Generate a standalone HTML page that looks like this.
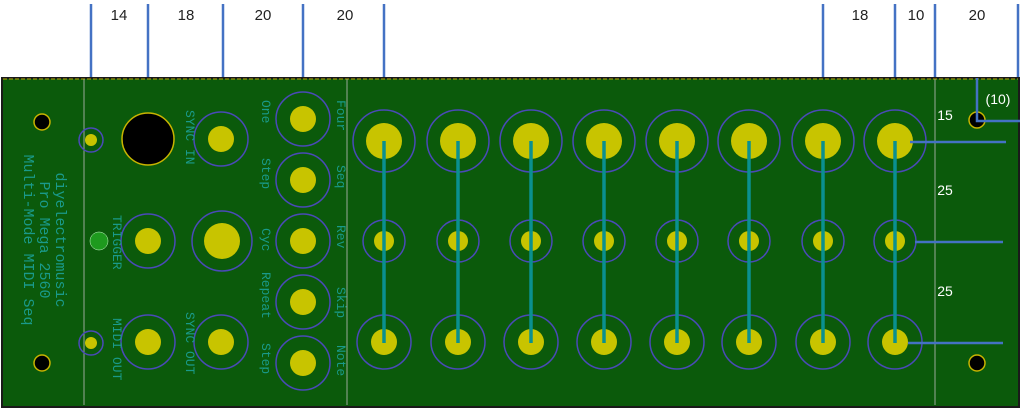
<!DOCTYPE html><html><head><style>body{margin:0;background:#fff}svg{display:block}</style></head><body>
<svg width="1022" height="408" xmlns="http://www.w3.org/2000/svg" font-family="Liberation Sans, sans-serif">
<rect x="0" y="0" width="1022" height="408" fill="#fff"/>
<rect x="2" y="78" width="1017" height="329" fill="#0b5a0b" stroke="#1a1a1a" stroke-width="2"/>
<line x1="3" y1="79" x2="1018" y2="79" stroke="#b8a800" stroke-width="1" stroke-dasharray="4,2"/>
<g stroke="#9aa89a" stroke-width="1"><line x1="84" y1="79" x2="84" y2="405"/><line x1="347" y1="79" x2="347" y2="405"/><line x1="935" y1="79" x2="935" y2="405"/></g>
<g fill="#000" stroke="#c8b400" stroke-width="1.5"><circle cx="42" cy="122" r="8"/><circle cx="42" cy="363" r="8"/><circle cx="977" cy="120" r="8"/><circle cx="977" cy="363" r="8"/><circle cx="148" cy="139" r="26"/></g>
<g fill="none" stroke="#4a4ab8" stroke-width="1.5">
<circle cx="91" cy="140" r="12"/><circle cx="91" cy="343" r="12"/>
<circle cx="221" cy="139" r="27"/><circle cx="148" cy="241" r="27"/><circle cx="222" cy="241" r="30"/><circle cx="148" cy="342" r="27"/><circle cx="221" cy="342" r="27"/>
<circle cx="303" cy="119" r="27"/><circle cx="303" cy="180" r="27"/><circle cx="303" cy="241" r="27"/><circle cx="303" cy="302" r="27"/><circle cx="303" cy="363" r="27"/>
</g>
<g fill="#c8c400">
<circle cx="91" cy="140" r="6"/><circle cx="91" cy="343" r="6"/>
<circle cx="221" cy="139" r="13"/><circle cx="148" cy="241" r="13"/><circle cx="222" cy="241" r="18"/><circle cx="148" cy="342" r="13"/><circle cx="221" cy="342" r="13"/>
<circle cx="303" cy="119" r="13"/><circle cx="303" cy="180" r="13"/><circle cx="303" cy="241" r="13"/><circle cx="303" cy="302" r="13"/><circle cx="303" cy="363" r="13"/>
</g>
<circle cx="99" cy="241" r="9" fill="#1e9a1e" stroke="#cfc" stroke-width="0.5"/>
<g id="cols">
<g fill="none" stroke="#4a4ab8" stroke-width="1.5">
<circle cx="384" cy="141" r="31"/><circle cx="384" cy="241" r="21"/><circle cx="384" cy="342" r="27"/>
<circle cx="458" cy="141" r="31"/><circle cx="458" cy="241" r="21"/><circle cx="458" cy="342" r="27"/>
<circle cx="531" cy="141" r="31"/><circle cx="531" cy="241" r="21"/><circle cx="531" cy="342" r="27"/>
<circle cx="604" cy="141" r="31"/><circle cx="604" cy="241" r="21"/><circle cx="604" cy="342" r="27"/>
<circle cx="677" cy="141" r="31"/><circle cx="677" cy="241" r="21"/><circle cx="677" cy="342" r="27"/>
<circle cx="749" cy="141" r="31"/><circle cx="749" cy="241" r="21"/><circle cx="749" cy="342" r="27"/>
<circle cx="823" cy="141" r="31"/><circle cx="823" cy="241" r="21"/><circle cx="823" cy="342" r="27"/>
<circle cx="895" cy="141" r="31"/><circle cx="895" cy="241" r="21"/><circle cx="895" cy="342" r="27"/>
</g>
<g fill="#c8c400">
<circle cx="384" cy="141" r="18"/><circle cx="384" cy="241" r="10"/><circle cx="384" cy="342" r="13"/>
<circle cx="458" cy="141" r="18"/><circle cx="458" cy="241" r="10"/><circle cx="458" cy="342" r="13"/>
<circle cx="531" cy="141" r="18"/><circle cx="531" cy="241" r="10"/><circle cx="531" cy="342" r="13"/>
<circle cx="604" cy="141" r="18"/><circle cx="604" cy="241" r="10"/><circle cx="604" cy="342" r="13"/>
<circle cx="677" cy="141" r="18"/><circle cx="677" cy="241" r="10"/><circle cx="677" cy="342" r="13"/>
<circle cx="749" cy="141" r="18"/><circle cx="749" cy="241" r="10"/><circle cx="749" cy="342" r="13"/>
<circle cx="823" cy="141" r="18"/><circle cx="823" cy="241" r="10"/><circle cx="823" cy="342" r="13"/>
<circle cx="895" cy="141" r="18"/><circle cx="895" cy="241" r="10"/><circle cx="895" cy="342" r="13"/>
</g>
<g stroke="#0a9090" stroke-width="3.5">
<line x1="384" y1="141" x2="384" y2="343"/><line x1="458" y1="141" x2="458" y2="343"/><line x1="531" y1="141" x2="531" y2="343"/><line x1="604" y1="141" x2="604" y2="343"/><line x1="677" y1="141" x2="677" y2="343"/><line x1="749" y1="141" x2="749" y2="343"/><line x1="823" y1="141" x2="823" y2="343"/><line x1="895" y1="141" x2="895" y2="343"/>
</g>
</g>
<g fill="#1a9a8a" font-family="Liberation Mono, monospace" font-size="15">
<text transform="translate(56,240) rotate(90)" text-anchor="middle">diyelectromusic</text>
<text transform="translate(40,240) rotate(90)" text-anchor="middle">Pro Mega 2560</text>
<text transform="translate(24,240) rotate(90)" text-anchor="middle">Multi-Mode MIDI Seq</text>
<text font-size="13" transform="translate(186,110) rotate(90)">SYNC IN</text>
<text font-size="13" transform="translate(113,215) rotate(90)">TRIGGER</text>
<text font-size="13" transform="translate(113,318) rotate(90)">MIDI OUT</text>
<text font-size="13" transform="translate(186,312) rotate(90)">SYNC OUT</text>
<text font-size="13" transform="translate(337,100) rotate(90)">Four</text>
<text font-size="13" transform="translate(262,100) rotate(90)">One</text>
<text font-size="13" transform="translate(337,165) rotate(90)">Seq</text>
<text font-size="13" transform="translate(262,158) rotate(90)">Step</text>
<text font-size="13" transform="translate(337,225) rotate(90)">Rev</text>
<text font-size="13" transform="translate(262,228) rotate(90)">Cyc</text>
<text font-size="13" transform="translate(337,287) rotate(90)">Skip</text>
<text font-size="13" transform="translate(262,272) rotate(90)">Repeat</text>
<text font-size="13" transform="translate(337,345) rotate(90)">Note</text>
<text font-size="13" transform="translate(262,343) rotate(90)">Step</text>
</g>
<g stroke="#4472c4" stroke-width="2.5" fill="none">
<line x1="91" y1="4" x2="91" y2="77"/><line x1="148" y1="4" x2="148" y2="77"/><line x1="223" y1="4" x2="223" y2="77"/><line x1="303" y1="4" x2="303" y2="77"/><line x1="384" y1="4" x2="384" y2="77"/>
<line x1="823" y1="4" x2="823" y2="77"/><line x1="895" y1="4" x2="895" y2="77"/><line x1="935" y1="4" x2="935" y2="77"/><line x1="1018" y1="4" x2="1018" y2="77"/>
<line x1="910" y1="142" x2="1006" y2="142"/><line x1="915" y1="242" x2="1003" y2="242"/><line x1="908" y1="343" x2="1003" y2="343"/>
<polyline points="977,78 977,121 1020,121"/>
</g>
<g fill="#222" font-size="15" text-anchor="middle">
<text x="119" y="20">14</text><text x="186" y="20">18</text><text x="263" y="20">20</text><text x="345" y="20">20</text>
<text x="860" y="20">18</text><text x="916" y="20">10</text><text x="977" y="20">20</text>
</g>
<g fill="#fff" font-size="14" text-anchor="middle">
<text x="945" y="120">15</text><text x="945" y="195">25</text><text x="945" y="296">25</text><text x="998" y="104">(10)</text>
</g>
</svg>
</body></html>
